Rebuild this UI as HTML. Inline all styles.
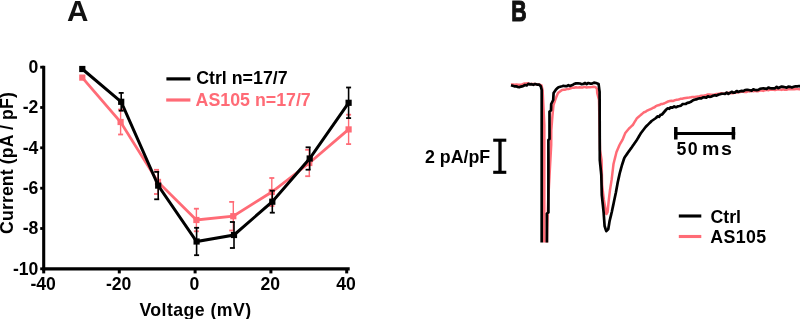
<!DOCTYPE html>
<html><head><meta charset="utf-8"><style>
html,body{margin:0;padding:0;background:#fff;width:800px;height:319px;overflow:hidden}
svg{display:block;will-change:transform}
text{font-family:"Liberation Sans",sans-serif;font-weight:bold}
.tk{font-size:17.6px}
.tt{font-size:17.7px}
.lg{font-size:17.8px}
.pt{font-size:29.6px;fill:#111}
</style></head><body>
<svg width="800" height="319" viewBox="0 0 800 319">
<rect width="800" height="319" fill="#fff"/>
<line x1="43.7" y1="65.8" x2="43.7" y2="270.4" stroke="#000" stroke-width="3.1"/>
<line x1="42.2" y1="268.9" x2="349.7" y2="268.9" stroke="#000" stroke-width="3.1"/>
<line x1="40.2" y1="67.2" x2="44" y2="67.2" stroke="#000" stroke-width="2.8"/>
<text x="38.4" y="72.9" text-anchor="end" class="tk">0</text>
<line x1="40.2" y1="107.5" x2="44" y2="107.5" stroke="#000" stroke-width="2.8"/>
<text x="38.4" y="113.2" text-anchor="end" class="tk">-2</text>
<line x1="40.2" y1="147.8" x2="44" y2="147.8" stroke="#000" stroke-width="2.8"/>
<text x="38.4" y="153.5" text-anchor="end" class="tk">-4</text>
<line x1="40.2" y1="188.2" x2="44" y2="188.2" stroke="#000" stroke-width="2.8"/>
<text x="38.4" y="193.9" text-anchor="end" class="tk">-6</text>
<line x1="40.2" y1="228.5" x2="44" y2="228.5" stroke="#000" stroke-width="2.8"/>
<text x="38.4" y="234.2" text-anchor="end" class="tk">-8</text>
<line x1="40.2" y1="268.8" x2="44" y2="268.8" stroke="#000" stroke-width="2.8"/>
<text x="38.4" y="274.5" text-anchor="end" class="tk">-10</text>
<line x1="43.7" y1="268" x2="43.7" y2="273.4" stroke="#000" stroke-width="3"/>
<text x="43.1" y="289.6" text-anchor="middle" class="tk">-40</text>
<line x1="119.3" y1="268" x2="119.3" y2="273.4" stroke="#000" stroke-width="3"/>
<text x="118.7" y="289.6" text-anchor="middle" class="tk">-20</text>
<line x1="195.1" y1="268" x2="195.1" y2="273.4" stroke="#000" stroke-width="3"/>
<text x="194.5" y="289.6" text-anchor="middle" class="tk">0</text>
<line x1="270.9" y1="268" x2="270.9" y2="273.4" stroke="#000" stroke-width="3"/>
<text x="270.29999999999995" y="289.6" text-anchor="middle" class="tk">20</text>
<line x1="346.7" y1="268" x2="346.7" y2="273.4" stroke="#000" stroke-width="3"/>
<text x="346.09999999999997" y="289.6" text-anchor="middle" class="tk">40</text>
<text x="195.5" y="315.6" text-anchor="middle" class="tt" letter-spacing="0.45">Voltage (mV)</text>
<text transform="translate(12.9 163) rotate(-90)" x="0" y="0" text-anchor="middle" class="tt" letter-spacing="0.12">Current (pA / pF)</text>
<polyline points="82.3,77.6 120.6,122.0 158.0,181.9 196.4,220.0 233.3,216.2 271.8,192.0 309.3,163.0 348.6,129.4" fill="none" stroke="#FF6B76" stroke-width="2.8" stroke-linejoin="miter"/>
<rect x="79.2" y="74.5" width="6.2" height="6.2" fill="#FF6B76"/>
<line x1="120.6" y1="109.5" x2="120.6" y2="134.5" stroke="#FF6B76" stroke-width="1.4"/>
<line x1="118.1" y1="109.5" x2="123.1" y2="109.5" stroke="#FF6B76" stroke-width="1.8"/>
<line x1="118.1" y1="134.5" x2="123.1" y2="134.5" stroke="#FF6B76" stroke-width="1.8"/>
<rect x="117.5" y="118.9" width="6.2" height="6.2" fill="#FF6B76"/>
<line x1="158.0" y1="169.8" x2="158.0" y2="194.0" stroke="#FF6B76" stroke-width="1.4"/>
<line x1="154.0" y1="169.8" x2="159.0" y2="169.8" stroke="#FF6B76" stroke-width="1.8"/>
<line x1="154.0" y1="194.0" x2="159.0" y2="194.0" stroke="#FF6B76" stroke-width="1.8"/>
<rect x="154.9" y="178.8" width="6.2" height="6.2" fill="#FF6B76"/>
<line x1="196.4" y1="208.7" x2="196.4" y2="231.3" stroke="#FF6B76" stroke-width="1.4"/>
<line x1="193.9" y1="208.7" x2="198.9" y2="208.7" stroke="#FF6B76" stroke-width="1.8"/>
<line x1="193.9" y1="231.3" x2="198.9" y2="231.3" stroke="#FF6B76" stroke-width="1.8"/>
<rect x="193.3" y="216.9" width="6.2" height="6.2" fill="#FF6B76"/>
<line x1="233.3" y1="201.9" x2="233.3" y2="230.5" stroke="#FF6B76" stroke-width="1.4"/>
<line x1="229.2" y1="201.9" x2="234.2" y2="201.9" stroke="#FF6B76" stroke-width="1.8"/>
<line x1="229.2" y1="230.5" x2="234.2" y2="230.5" stroke="#FF6B76" stroke-width="1.8"/>
<rect x="230.2" y="213.1" width="6.2" height="6.2" fill="#FF6B76"/>
<line x1="271.8" y1="178.0" x2="271.8" y2="206.0" stroke="#FF6B76" stroke-width="1.4"/>
<line x1="269.3" y1="178.0" x2="274.3" y2="178.0" stroke="#FF6B76" stroke-width="1.8"/>
<line x1="269.3" y1="206.0" x2="274.3" y2="206.0" stroke="#FF6B76" stroke-width="1.8"/>
<rect x="268.7" y="188.9" width="6.2" height="6.2" fill="#FF6B76"/>
<line x1="309.3" y1="149.8" x2="309.3" y2="176.2" stroke="#FF6B76" stroke-width="1.4"/>
<line x1="305.2" y1="149.8" x2="310.2" y2="149.8" stroke="#FF6B76" stroke-width="1.8"/>
<line x1="305.2" y1="176.2" x2="310.2" y2="176.2" stroke="#FF6B76" stroke-width="1.8"/>
<rect x="306.2" y="159.9" width="6.2" height="6.2" fill="#FF6B76"/>
<line x1="348.6" y1="114.7" x2="348.6" y2="144.1" stroke="#FF6B76" stroke-width="1.4"/>
<line x1="346.1" y1="114.7" x2="351.1" y2="114.7" stroke="#FF6B76" stroke-width="1.8"/>
<line x1="346.1" y1="144.1" x2="351.1" y2="144.1" stroke="#FF6B76" stroke-width="1.8"/>
<rect x="345.5" y="126.3" width="6.2" height="6.2" fill="#FF6B76"/>
<polyline points="82.3,69.0 121.2,101.8 158.2,185.6 196.6,241.5 234.0,235.0 272.3,201.7 309.7,158.5 348.6,102.8" fill="none" stroke="#000" stroke-width="3.0" stroke-linejoin="miter"/>
<rect x="79.2" y="65.9" width="6.2" height="6.2" fill="#000"/>
<line x1="121.2" y1="92.9" x2="121.2" y2="110.7" stroke="#000" stroke-width="1.6"/>
<line x1="118.7" y1="92.9" x2="123.7" y2="92.9" stroke="#000" stroke-width="1.8"/>
<line x1="118.7" y1="110.7" x2="123.7" y2="110.7" stroke="#000" stroke-width="1.8"/>
<rect x="118.1" y="98.7" width="6.2" height="6.2" fill="#000"/>
<line x1="158.2" y1="171.9" x2="158.2" y2="199.3" stroke="#000" stroke-width="1.6"/>
<line x1="154.2" y1="171.9" x2="159.2" y2="171.9" stroke="#000" stroke-width="1.8"/>
<line x1="154.2" y1="199.3" x2="159.2" y2="199.3" stroke="#000" stroke-width="1.8"/>
<rect x="155.1" y="182.5" width="6.2" height="6.2" fill="#000"/>
<line x1="196.6" y1="227.8" x2="196.6" y2="255.2" stroke="#000" stroke-width="1.6"/>
<line x1="194.1" y1="227.8" x2="199.1" y2="227.8" stroke="#000" stroke-width="1.8"/>
<line x1="194.1" y1="255.2" x2="199.1" y2="255.2" stroke="#000" stroke-width="1.8"/>
<rect x="193.5" y="238.4" width="6.2" height="6.2" fill="#000"/>
<line x1="234.0" y1="222.0" x2="234.0" y2="248.0" stroke="#000" stroke-width="1.6"/>
<line x1="229.9" y1="222.0" x2="234.9" y2="222.0" stroke="#000" stroke-width="1.8"/>
<line x1="229.9" y1="248.0" x2="234.9" y2="248.0" stroke="#000" stroke-width="1.8"/>
<rect x="230.9" y="231.9" width="6.2" height="6.2" fill="#000"/>
<line x1="272.3" y1="190.7" x2="272.3" y2="212.7" stroke="#000" stroke-width="1.6"/>
<line x1="269.8" y1="190.7" x2="274.8" y2="190.7" stroke="#000" stroke-width="1.8"/>
<line x1="269.8" y1="212.7" x2="274.8" y2="212.7" stroke="#000" stroke-width="1.8"/>
<rect x="269.2" y="198.6" width="6.2" height="6.2" fill="#000"/>
<line x1="309.7" y1="147.3" x2="309.7" y2="169.7" stroke="#000" stroke-width="1.6"/>
<line x1="305.6" y1="147.3" x2="310.6" y2="147.3" stroke="#000" stroke-width="1.8"/>
<line x1="305.6" y1="169.7" x2="310.6" y2="169.7" stroke="#000" stroke-width="1.8"/>
<rect x="306.6" y="155.4" width="6.2" height="6.2" fill="#000"/>
<line x1="348.6" y1="87.5" x2="348.6" y2="118.1" stroke="#000" stroke-width="1.6"/>
<line x1="346.1" y1="87.5" x2="351.1" y2="87.5" stroke="#000" stroke-width="1.8"/>
<line x1="346.1" y1="118.1" x2="351.1" y2="118.1" stroke="#000" stroke-width="1.8"/>
<rect x="345.5" y="99.7" width="6.2" height="6.2" fill="#000"/>
<line x1="166.4" y1="78.9" x2="190.4" y2="78.9" stroke="#000" stroke-width="3.2"/>
<line x1="166.2" y1="100" x2="190.4" y2="100" stroke="#FF6B76" stroke-width="3.2"/>
<text x="196.2" y="83.6" class="lg">Ctrl n=17/7</text>
<text x="195.6" y="106.2" class="lg" fill="#FF6B76">AS105 n=17/7</text>
<text x="67.0" y="20.9" class="pt">A</text>
<text x="0" y="0" class="pt" stroke="#111" stroke-width="1.1" transform="translate(511.2 20.6) scale(0.72 1)">B</text>
<clipPath id="cp"><rect x="400" y="0" width="400" height="242.6"/></clipPath><g clip-path="url(#cp)">
<path d="M511.00,84.60 L512.80,84.40 L514.60,84.72 L516.40,84.60 L518.20,84.85 L520.00,84.80 L522.00,84.51 L524.00,83.61 L526.00,83.60 L528.00,83.30 L530.00,84.17 L532.00,84.00 L533.75,83.88 L535.50,83.96 L537.25,84.75 L539.00,84.40 L541.50,85.50 L542.05,87.75 L542.60,90.00 L542.68,91.67 L542.77,93.33 L542.85,95.00 L542.93,96.67 L543.02,98.33 L543.10,100.00 L543.18,101.67 L543.27,103.33 L543.35,105.00 L543.43,106.67 L543.52,108.33 L543.60,110.00 L543.68,111.67 L543.76,113.33 L543.83,115.00 L543.91,116.67 L543.99,118.33 L544.07,120.00 L544.14,121.67 L544.22,123.33 L544.30,125.00 L544.30,126.60 L544.30,128.21 L544.30,129.81 L544.30,131.41 L544.30,133.01 L544.30,134.62 L544.30,136.22 L544.30,137.82 L544.30,139.42 L544.30,141.03 L544.30,142.63 L544.30,144.23 L544.30,145.83 L544.30,147.44 L544.30,149.04 L544.30,150.64 L544.30,152.24 L544.30,153.85 L544.30,155.45 L544.30,157.05 L544.30,158.65 L544.30,160.26 L544.30,161.86 L544.30,163.46 L544.30,165.06 L544.30,166.67 L544.30,168.27 L544.30,169.87 L544.30,171.47 L544.30,173.08 L544.30,174.68 L544.30,176.28 L544.30,177.88 L544.30,179.49 L544.30,181.09 L544.30,182.69 L544.30,184.29 L544.30,185.90 L544.30,187.50 L544.30,189.10 L544.30,190.71 L544.30,192.31 L544.30,193.91 L544.30,195.51 L544.30,197.12 L544.30,198.72 L544.30,200.32 L544.30,201.92 L544.30,203.53 L544.30,205.13 L544.30,206.73 L544.30,208.33 L544.30,209.94 L544.30,211.54 L544.30,213.14 L544.30,214.74 L544.30,216.35 L544.30,217.95 L544.30,219.55 L544.30,221.15 L544.30,222.76 L544.30,224.36 L544.30,225.96 L544.30,227.56 L544.30,229.17 L544.30,230.77 L544.30,232.37 L544.30,233.97 L544.30,235.58 L544.30,237.18 L544.30,238.78 L544.30,240.38 L544.30,241.99 L544.30,243.59 L544.30,245.19 L544.30,246.79 L544.30,248.40 L544.30,250.00 L546.80,250.00 L546.83,248.33 L546.87,246.67 L546.90,245.00 L546.93,243.33 L546.97,241.67 L547.00,240.00 L547.03,238.33 L547.07,236.67 L547.10,235.00 L547.13,233.33 L547.17,231.67 L547.20,230.00 L547.26,228.33 L547.31,226.67 L547.37,225.00 L547.42,223.33 L547.48,221.67 L547.53,220.00 L547.59,218.33 L547.64,216.67 L547.70,215.00 L547.76,213.33 L547.81,211.67 L547.87,210.00 L547.92,208.33 L547.98,206.67 L548.03,205.00 L548.09,203.33 L548.14,201.67 L548.20,200.00 L548.29,198.38 L548.38,196.76 L548.46,195.15 L548.55,193.53 L548.64,191.91 L548.73,190.29 L548.82,188.68 L548.91,187.06 L548.99,185.44 L549.08,183.82 L549.17,182.21 L549.26,180.59 L549.35,178.97 L549.44,177.35 L549.52,175.74 L549.61,174.12 L549.70,172.50 L549.79,170.88 L549.88,169.26 L549.96,167.65 L550.05,166.03 L550.14,164.41 L550.23,162.79 L550.32,161.18 L550.41,159.56 L550.49,157.94 L550.58,156.32 L550.67,154.71 L550.76,153.09 L550.85,151.47 L550.94,149.85 L551.02,148.24 L551.11,146.62 L551.20,145.00 L551.21,143.33 L551.22,141.67 L551.23,140.00 L551.24,138.33 L551.26,136.67 L551.27,135.00 L551.28,133.33 L551.29,131.67 L551.30,130.00 L551.43,128.33 L551.57,126.67 L551.70,125.00 L551.83,123.33 L551.97,121.67 L552.10,120.00 L552.23,118.33 L552.37,116.67 L552.50,115.00 L552.67,113.33 L552.83,111.67 L553.00,110.00 L553.17,108.33 L553.33,106.67 L553.50,105.00 L554.06,103.40 L554.62,101.80 L555.18,100.20 L555.74,98.60 L556.30,97.00 L557.15,95.00 L558.00,93.00 L559.33,92.00 L560.67,91.00 L562.00,90.00 L563.60,89.67 L565.20,89.70 L566.80,89.08 L568.40,88.93 L570.00,88.50 L572.00,87.79 L574.00,87.82 L576.00,87.30 L577.75,87.62 L579.50,87.30 L581.25,87.48 L583.00,87.40 L584.75,86.85 L586.50,87.46 L588.25,87.29 L590.00,87.20 L591.83,86.99 L593.67,86.71 L595.50,87.10 L597.00,89.00 L597.10,91.00 L597.20,93.00 L597.65,94.75 L598.10,96.50 L598.55,98.25 L599.00,100.00 L599.03,101.61 L599.06,103.23 L599.10,104.84 L599.13,106.45 L599.16,108.06 L599.19,109.68 L599.23,111.29 L599.26,112.90 L599.29,114.52 L599.32,116.13 L599.35,117.74 L599.39,119.35 L599.42,120.97 L599.45,122.58 L599.48,124.19 L599.52,125.81 L599.55,127.42 L599.58,129.03 L599.61,130.65 L599.65,132.26 L599.68,133.87 L599.71,135.48 L599.74,137.10 L599.77,138.71 L599.81,140.32 L599.84,141.94 L599.87,143.55 L599.90,145.16 L599.94,146.77 L599.97,148.39 L600.00,150.00 L600.27,151.67 L600.53,153.33 L600.80,155.00 L601.07,156.67 L601.33,158.33 L601.60,160.00 L601.63,161.67 L601.67,163.33 L601.70,165.00 L601.73,166.67 L601.77,168.33 L601.80,170.00 L601.83,171.67 L601.87,173.33 L601.90,175.00 L601.93,176.67 L601.97,178.33 L602.00,180.00 L602.03,181.67 L602.07,183.33 L602.10,185.00 L602.30,186.67 L602.50,188.33 L602.70,190.00 L602.90,191.67 L603.10,193.33 L603.30,195.00 L603.50,196.67 L603.70,198.33 L603.90,200.00 L604.21,201.75 L604.52,203.50 L604.84,205.25 L605.15,207.00 L605.46,208.75 L605.77,210.50 L606.09,212.25 L606.40,214.00 L607.60,212.00 L607.77,210.29 L607.94,208.57 L608.11,206.86 L608.29,205.14 L608.46,203.43 L608.63,201.71 L608.80,200.00 L609.00,198.33 L609.20,196.67 L609.40,195.00 L609.60,193.33 L609.80,191.67 L610.00,190.00 L610.27,188.33 L610.53,186.67 L610.80,185.00 L611.07,183.33 L611.33,181.67 L611.60,180.00 L611.79,178.40 L611.98,176.80 L612.17,175.20 L612.36,173.60 L612.55,172.00 L612.74,170.40 L612.93,168.80 L613.12,167.20 L613.31,165.60 L613.50,164.00 L613.93,162.29 L614.36,160.57 L614.79,158.86 L615.21,157.14 L615.64,155.43 L616.07,153.71 L616.50,152.00 L617.25,150.25 L618.00,148.50 L618.75,146.75 L619.50,145.00 L620.53,143.20 L621.57,141.40 L622.60,139.60 L623.27,137.95 L623.95,136.30 L624.62,134.65 L625.30,133.00 L626.53,131.50 L627.77,130.00 L629.00,128.50 L630.27,127.33 L631.53,126.17 L632.80,125.00 L633.80,123.35 L634.80,121.70 L635.80,120.05 L636.80,118.40 L638.40,117.00 L640.00,115.60 L641.33,114.47 L642.67,113.33 L644.00,112.20 L645.60,111.73 L647.20,110.58 L648.80,109.80 L650.25,109.26 L651.70,108.67 L653.15,107.79 L654.60,107.25 L656.05,106.04 L657.50,105.40 L659.26,105.05 L661.02,104.11 L662.78,103.93 L664.54,103.26 L666.30,102.30 L668.06,101.50 L669.82,101.09 L671.58,100.73 L673.34,100.96 L675.10,100.10 L676.86,99.68 L678.62,99.49 L680.38,98.84 L682.14,98.67 L683.90,98.30 L685.64,97.94 L687.38,97.65 L689.12,97.60 L690.86,97.34 L692.60,97.00 L694.36,97.10 L696.12,96.64 L697.88,96.61 L699.64,96.28 L701.40,95.70 L703.38,95.87 L705.35,95.30 L707.32,94.57 L709.30,94.60 L711.08,94.76 L712.87,94.68 L714.65,94.46 L716.43,94.00 L718.22,93.96 L720.00,93.60 L721.67,93.24 L723.33,93.70 L725.00,93.37 L726.67,93.01 L728.33,92.71 L730.00,93.00 L731.67,93.17 L733.33,93.14 L735.00,92.18 L736.67,92.67 L738.33,92.17 L740.00,92.10 L741.67,91.66 L743.33,91.66 L745.00,91.97 L746.67,91.94 L748.33,91.06 L750.00,91.45 L751.67,90.82 L753.33,91.30 L755.00,90.82 L756.67,91.19 L758.33,91.16 L760.00,90.60 L761.67,90.52 L763.33,90.88 L765.00,90.18 L766.67,89.89 L768.33,90.27 L770.00,89.68 L771.67,89.74 L773.33,89.85 L775.00,89.95 L776.67,89.46 L778.33,89.27 L780.00,89.60 L781.62,89.88 L783.23,89.32 L784.85,89.85 L786.46,89.74 L788.08,89.22 L789.69,89.24 L791.31,89.24 L792.92,89.30 L794.54,89.20 L796.15,89.11 L797.77,89.12 L799.38,89.35 L801.00,88.90" fill="none" stroke="#FF6B76" stroke-width="2.5" stroke-linejoin="round"/>
<path d="M511.00,85.20 L512.67,85.76 L514.33,86.32 L516.00,86.30 L517.67,86.87 L519.33,87.21 L521.00,86.60 L523.00,86.18 L525.00,85.00 L526.67,85.48 L528.33,83.85 L530.00,84.40 L531.67,84.21 L533.33,84.84 L535.00,84.00 L537.00,84.54 L539.00,84.60 L540.80,86.30 L541.25,88.15 L541.70,90.00 L541.70,91.60 L541.70,93.20 L541.70,94.80 L541.70,96.40 L541.70,98.00 L541.70,99.60 L541.70,101.20 L541.70,102.80 L541.70,104.40 L541.70,106.00 L541.70,107.60 L541.70,109.20 L541.70,110.80 L541.70,112.40 L541.70,114.00 L541.70,115.60 L541.70,117.20 L541.70,118.80 L541.70,120.40 L541.70,122.00 L541.70,123.60 L541.70,125.20 L541.70,126.80 L541.70,128.40 L541.70,130.00 L541.70,131.60 L541.70,133.20 L541.70,134.80 L541.70,136.40 L541.70,138.00 L541.70,139.60 L541.70,141.20 L541.70,142.80 L541.70,144.40 L541.70,146.00 L541.70,147.60 L541.70,149.20 L541.70,150.80 L541.70,152.40 L541.70,154.00 L541.70,155.60 L541.70,157.20 L541.70,158.80 L541.70,160.40 L541.70,162.00 L541.70,163.60 L541.70,165.20 L541.70,166.80 L541.70,168.40 L541.70,170.00 L541.70,171.60 L541.70,173.20 L541.70,174.80 L541.70,176.40 L541.70,178.00 L541.70,179.60 L541.70,181.20 L541.70,182.80 L541.70,184.40 L541.70,186.00 L541.70,187.60 L541.70,189.20 L541.70,190.80 L541.70,192.40 L541.70,194.00 L541.70,195.60 L541.70,197.20 L541.70,198.80 L541.70,200.40 L541.70,202.00 L541.70,203.60 L541.70,205.20 L541.70,206.80 L541.70,208.40 L541.70,210.00 L541.70,211.60 L541.70,213.20 L541.70,214.80 L541.70,216.40 L541.70,218.00 L541.70,219.60 L541.70,221.20 L541.70,222.80 L541.70,224.40 L541.70,226.00 L541.70,227.60 L541.70,229.20 L541.70,230.80 L541.70,232.40 L541.70,234.00 L541.70,235.60 L541.70,237.20 L541.70,238.80 L541.70,240.40 L541.70,242.00 L541.70,243.60 L541.70,245.20 L541.70,246.80 L541.70,248.40 L541.70,250.00 L543.43,250.64 L545.17,249.38 L546.90,250.00 L546.90,248.34 L546.90,246.68 L546.90,245.02 L546.90,243.36 L546.90,241.70 L546.90,240.05 L546.90,238.39 L546.90,236.73 L546.90,235.07 L546.90,233.41 L546.90,231.75 L546.90,230.09 L546.90,228.43 L546.90,226.77 L546.90,225.11 L546.90,223.45 L546.90,221.80 L546.90,220.14 L546.90,218.48 L546.90,216.82 L546.90,215.16 L546.90,213.50 L548.40,212.50 L548.40,210.89 L548.40,209.28 L548.40,207.67 L548.40,206.06 L548.40,204.44 L548.40,202.83 L548.40,201.22 L548.40,199.61 L548.40,198.00 L548.40,196.39 L548.40,194.78 L548.40,193.17 L548.40,191.56 L548.40,189.94 L548.40,188.33 L548.40,186.72 L548.40,185.11 L548.40,183.50 L548.40,181.89 L548.40,180.28 L548.40,178.67 L548.40,177.06 L548.40,175.44 L548.40,173.83 L548.40,172.22 L548.40,170.61 L548.40,169.00 L548.40,167.39 L548.40,165.78 L548.40,164.17 L548.40,162.56 L548.40,160.94 L548.40,159.33 L548.40,157.72 L548.40,156.11 L548.40,154.50 L548.40,152.89 L548.40,151.28 L548.40,149.67 L548.40,148.06 L548.40,146.44 L548.40,144.83 L548.40,143.22 L548.40,141.61 L548.40,140.00 L549.50,139.00 L549.50,137.38 L549.50,135.76 L549.50,134.15 L549.50,132.53 L549.50,130.91 L549.50,129.29 L549.50,127.68 L549.50,126.06 L549.50,124.44 L549.50,122.82 L549.50,121.21 L549.50,119.59 L549.50,117.97 L549.50,116.35 L549.50,114.74 L549.50,113.12 L549.50,111.50 L551.00,110.50 L551.05,108.88 L551.10,107.25 L551.15,105.62 L551.20,104.00 L552.20,102.00 L553.20,100.00 L553.30,98.25 L553.40,96.50 L553.50,94.75 L553.60,93.00 L554.80,91.25 L556.00,89.50 L557.25,88.35 L558.50,87.20 L560.25,86.70 L562.00,86.30 L563.60,85.81 L565.20,86.21 L566.80,86.18 L568.40,85.20 L570.00,85.90 L573.00,84.80 L574.00,84.00 L576.00,83.38 L578.00,83.31 L580.00,83.50 L581.67,84.18 L583.33,83.96 L585.00,83.01 L586.67,84.04 L588.33,83.01 L590.00,83.60 L592.00,83.59 L594.00,82.60 L596.00,83.00 L598.60,84.00 L598.80,85.60 L599.00,87.20 L599.20,88.80 L599.40,90.40 L599.60,92.00 L599.60,93.62 L599.61,95.24 L599.61,96.86 L599.62,98.48 L599.62,100.10 L599.63,101.71 L599.63,103.33 L599.64,104.95 L599.64,106.57 L599.65,108.19 L599.65,109.81 L599.66,111.43 L599.66,113.05 L599.67,114.67 L599.67,116.29 L599.68,117.90 L599.68,119.52 L599.69,121.14 L599.69,122.76 L599.70,124.38 L599.70,126.00 L599.70,127.62 L599.71,129.24 L599.71,130.86 L599.72,132.48 L599.72,134.10 L599.73,135.71 L599.73,137.33 L599.74,138.95 L599.74,140.57 L599.75,142.19 L599.75,143.81 L599.76,145.43 L599.76,147.05 L599.77,148.67 L599.77,150.29 L599.78,151.90 L599.78,153.52 L599.79,155.14 L599.79,156.76 L599.80,158.38 L599.80,160.00 L599.97,161.67 L600.13,163.33 L600.30,165.00 L600.47,166.67 L600.63,168.33 L600.80,170.00 L600.97,171.67 L601.13,173.33 L601.30,175.00 L601.34,176.67 L601.38,178.33 L601.42,180.00 L601.47,181.67 L601.51,183.33 L601.55,185.00 L601.59,186.67 L601.63,188.33 L601.67,190.00 L601.72,191.67 L601.76,193.33 L601.80,195.00 L601.98,196.70 L602.16,198.40 L602.34,200.10 L602.52,201.80 L602.70,203.50 L602.88,205.20 L603.06,206.90 L603.24,208.60 L603.42,210.30 L603.60,212.00 L603.73,213.75 L603.85,215.50 L603.98,217.25 L604.10,219.00 L604.23,220.75 L604.35,222.50 L604.48,224.25 L604.60,226.00 L605.17,227.73 L605.73,229.47 L606.30,231.20 L608.30,229.00 L608.56,227.40 L608.82,225.80 L609.08,224.20 L609.34,222.60 L609.60,221.00 L610.04,219.20 L610.48,217.40 L610.92,215.60 L611.36,213.80 L611.80,212.00 L612.16,210.29 L612.51,208.57 L612.87,206.86 L613.23,205.14 L613.59,203.43 L613.94,201.71 L614.30,200.00 L614.67,198.25 L615.05,196.50 L615.42,194.75 L615.80,193.00 L616.13,191.17 L616.47,189.33 L616.80,187.50 L617.13,185.67 L617.47,183.83 L617.80,182.00 L618.20,180.20 L618.60,178.40 L619.00,176.60 L619.40,174.80 L619.80,173.00 L620.24,171.40 L620.68,169.80 L621.12,168.20 L621.56,166.60 L622.00,165.00 L622.58,163.25 L623.15,161.50 L623.72,159.75 L624.30,158.00 L625.22,156.62 L626.15,155.25 L627.08,153.88 L628.00,152.50 L629.00,151.12 L630.00,149.75 L631.00,148.38 L632.00,147.00 L632.96,145.60 L633.92,144.20 L634.88,142.80 L635.84,141.40 L636.80,140.00 L637.64,138.60 L638.48,137.20 L639.32,135.80 L640.16,134.40 L641.00,133.00 L642.15,131.50 L643.30,130.00 L644.45,128.50 L645.60,127.00 L646.80,125.80 L648.00,124.60 L649.20,123.40 L650.40,122.20 L651.60,121.00 L653.07,120.00 L654.53,119.00 L656.00,118.00 L657.50,116.33 L659.00,116.84 L660.50,114.91 L662.00,114.50 L663.08,113.25 L664.15,112.00 L665.22,110.75 L666.30,109.50 L667.77,108.31 L669.23,108.81 L670.70,107.30 L672.46,107.64 L674.22,106.44 L675.98,107.26 L677.74,106.32 L679.50,106.00 L680.97,105.62 L682.43,104.19 L683.90,104.00 L685.64,104.01 L687.38,102.91 L689.12,102.65 L690.86,101.83 L692.60,100.50 L694.36,99.76 L696.12,99.44 L697.88,98.71 L699.64,98.25 L701.40,98.40 L703.02,97.38 L704.64,97.44 L706.26,97.60 L707.88,96.33 L709.50,96.80 L711.25,96.67 L713.00,95.71 L714.75,95.25 L716.50,95.64 L718.25,94.69 L720.00,94.30 L721.67,93.76 L723.33,93.77 L725.00,93.88 L726.67,92.59 L728.33,93.81 L730.00,92.80 L731.67,91.79 L733.33,92.70 L735.00,92.60 L736.67,91.03 L738.33,92.01 L740.00,91.30 L741.67,90.92 L743.33,91.09 L745.00,90.01 L746.67,89.91 L748.33,89.96 L750.00,90.30 L751.67,90.79 L753.33,89.35 L755.00,90.01 L756.67,90.05 L758.33,89.84 L760.00,88.90 L761.67,88.52 L763.33,88.40 L765.00,88.54 L766.67,88.81 L768.33,87.61 L770.00,88.10 L771.67,88.36 L773.33,88.31 L775.00,88.28 L776.67,86.83 L778.33,88.15 L780.00,87.30 L781.67,86.56 L783.33,86.88 L785.00,87.23 L786.67,87.64 L788.33,86.63 L790.00,86.80 L791.83,87.43 L793.67,86.77 L795.50,86.35 L797.33,86.31 L799.17,86.03 L801.00,86.50" fill="none" stroke="#000" stroke-width="2.7" stroke-linejoin="round"/>
</g>
<line x1="500" y1="140.2" x2="500" y2="172.3" stroke="#000" stroke-width="3.3"/>
<line x1="493.2" y1="140.2" x2="506.3" y2="140.2" stroke="#000" stroke-width="3.1"/>
<line x1="493.2" y1="172.3" x2="506.3" y2="172.3" stroke="#000" stroke-width="3.1"/>
<text x="425" y="162.5" class="lg">2 pA/pF</text>
<line x1="674" y1="133.5" x2="735.2" y2="133.5" stroke="#000" stroke-width="3.1"/>
<line x1="675.8" y1="127" x2="675.8" y2="139.5" stroke="#000" stroke-width="3.5"/>
<line x1="733.4" y1="127" x2="733.4" y2="139.5" stroke="#000" stroke-width="3.5"/>
<text x="676.6" y="154.5" class="lg" letter-spacing="1.3">50</text>
<text x="0" y="0" class="lg" transform="translate(701.9 154.5) scale(1.1 1)" letter-spacing="1.5">ms</text>
<line x1="678.8" y1="216" x2="701.3" y2="216" stroke="#000" stroke-width="3.1"/>
<line x1="678.8" y1="236.5" x2="701.3" y2="236.5" stroke="#FF6B76" stroke-width="3.1"/>
<text x="710.4" y="222.6" class="lg">Ctrl</text>
<text x="710.2" y="242.9" class="lg" letter-spacing="0.4">AS105</text>
</svg>
</body></html>
